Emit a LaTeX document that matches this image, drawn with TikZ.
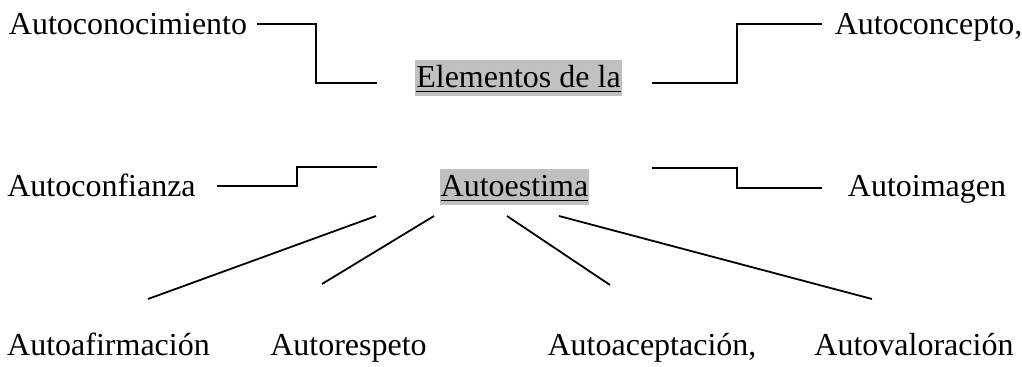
\documentclass[tikz,border=0pt]{standalone}
\usepackage{fontspec}
\setmainfont{Liberation Serif}
\definecolor{hilite}{RGB}{192,192,192}
\tikzset{
  Elem/.style = {anchor = base, inner sep = 0pt, font = \fontsize{16}{19}\selectfont},
  Title/.style = {Elem, fill = hilite, inner xsep = 0.6pt, text height = 14pt, text depth = 4pt},
  Link/.style = {line width = 0.9pt},
}

\begin{document}
\begin{tikzpicture}[x = 0.5pt, y = -0.5pt]
                %\draw[help lines] (0,0) grid (1022,367);
                \useasboundingbox (0,0) rectangle (1022,367);

                % centre
                \node[Title] (elem) at (518.5, 88) {\underline{Elementos de la}};
                \node[Title] (estima) at (514.5, 197) {\underline{Autoestima}};

                % sides
                \node[Elem] (conoc) at (128, 35) {Autoconocimiento};
                \node[Elem] (concep) at (928.5, 35) {Autoconcepto,};
                \node[Elem] (confi) at (101.5, 197) {Autoconfianza};
                \node[Elem] (imagen) at (927, 197) {Autoimagen};

                % bottom
                \node[Elem] (afirm) at (108.5, 356) {Autoafirmación};
                \node[Elem] (respeto) at (348.5, 356) {Autorespeto};
                \node[Elem] (acept) at (652, 356) {Autoaceptación,};
                \node[Elem] (valor) at (914, 356) {Autovaloración};

                \coordinate (conocA) at (257, 24);
                \coordinate (conocB) at (377, 83);
                \coordinate (concepA) at (822, 24);
                \coordinate (concepB) at (652, 83);
                \coordinate (confiA) at (217, 186);
                \coordinate (confiB) at (377, 167);
                \coordinate (imagenA) at (822, 188);
                \coordinate (imagenB) at (652, 168);
                \draw[Link] (conocA) -- ++(59, 0) |- (conocB);
                \draw[Link] (concepA) -- ++(-85, 0) |- (concepB);
                \draw[Link] (confiA) -- ++(80, 0) |- (confiB);
                \draw[Link] (imagenA) -- ++(-85, 0) |- (imagenB);

                \coordinate (afirmA) at (376, 216);
                \coordinate (afirmB) at (148, 299);
                \coordinate (respetoA) at (434, 216);
                \coordinate (respetoB) at (322, 284);
                \coordinate (aceptA) at (507, 216);
                \coordinate (aceptB) at (610, 285);
                \coordinate (valorA) at (559, 216);
                \coordinate (valorB) at (872, 299);
                \draw[Link] (afirmA) -- (afirmB);
                \draw[Link] (respetoA) -- (respetoB);
                \draw[Link] (aceptA) -- (aceptB);
                \draw[Link] (valorA) -- (valorB);
\end{tikzpicture}
\end{document}
